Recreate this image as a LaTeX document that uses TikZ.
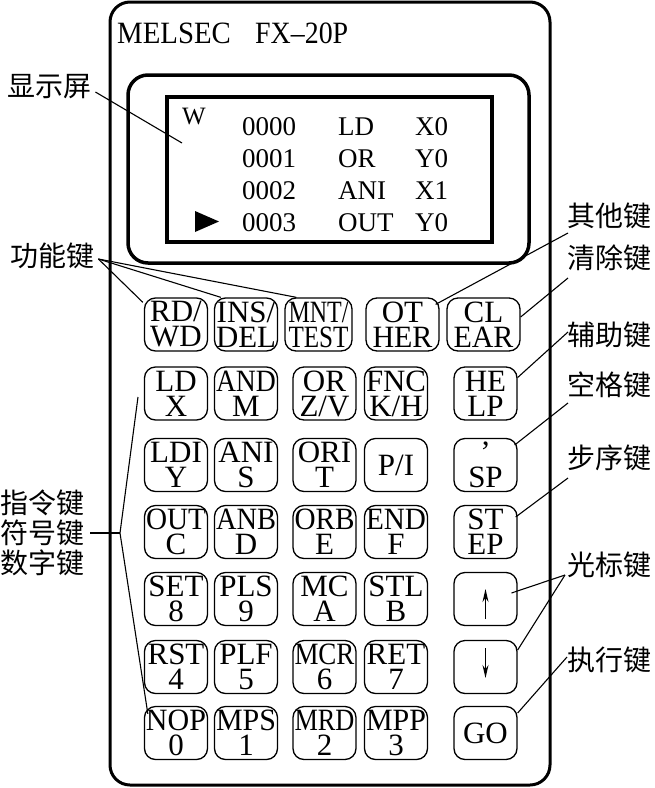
\documentclass[tikz,border=0pt]{standalone}
\usepackage{fontspec}
\usepackage{graphicx}
\setmainfont{Liberation Serif}
\newfontfamily\cjk{Noto Sans CJK SC}
\usetikzlibrary{arrows.meta,calc}
\newsavebox\keysb
\newcommand{\nx}[1]{\sbox\keysb{#1}\ifdim\wd\keysb>60pt\resizebox{60pt}{\height}{\usebox\keysb}\else\usebox\keysb\fi}
\begin{document}
\begin{tikzpicture}[x=1pt,y=-1pt,
  keybox/.style={draw, line width=1.3pt, rounded corners=11pt, minimum width=63pt, minimum height=53pt, inner sep=0pt, align=center, font=\fontsize{31}{25}\selectfont},
  lbl/.style={font=\cjk\fontsize{28}{30}\selectfont, inner sep=0pt, anchor=west},
  lead/.style={line width=1.1pt},
  scr/.style={font=\fontsize{27}{27}\selectfont, inner sep=0pt, anchor=base west},
  thickframe/.style={line width=3.5pt, rounded corners=20pt},
  cursor/.style={line width=1.5pt, -{Stealth[length=13pt,width=6pt]}},
]
\useasboundingbox (0,0) rectangle (654,788);
% body
\draw[line width=3pt, rounded corners=20pt] (110,2) rectangle (550,785);
\node[font=\fontsize{31}{31}\selectfont, inner sep=0pt, anchor=base west] (t1) at (117,43) {\scalebox{0.93}[1]{MELSEC}};
\node[font=\fontsize{31}{31}\selectfont, inner sep=0pt, anchor=base west] (t2) at (255,43) {\scalebox{0.9}[1]{FX–20P}};
% display
\draw[thickframe] (128,75) rectangle (529,263);
\draw[line width=3.5pt] (167,97) rectangle (492,242);
\node[font=\fontsize{25}{25}\selectfont, inner sep=0pt, anchor=base west] (w) at (182,124) {W};
\node[scr] (a0) at (242,135) {0000};
\node[scr] (a1) at (242,167) {0001};
\node[scr] (a2) at (242,199) {0002};
\node[scr] (a3) at (242,231) {0003};
\node[scr] (m0) at (338,135) {LD};
\node[scr] (m1) at (338,167) {OR};
\node[scr] (m2) at (338,199) {ANI};
\node[scr] (m3) at (338,231) {OUT};
\node[scr] (o0) at (415,135) {X0};
\node[scr] (o1) at (415,167) {Y0};
\node[scr] (o2) at (415,199) {X1};
\node[scr] (o3) at (415,231) {Y0};
\fill (195,211) -- (219,221.5) -- (195,232) -- cycle;
% keys row 1
\node[keybox] (rdwd) at (176,324.5) {\nx{RD/}\\\nx{WD}};
\node[keybox] (insdel) at (246,324.5) {\nx{INS/}\\\nx{DEL}};
\node[keybox, minimum width=67pt] (mnt) at (318.5,324.5) {\nx{MNT/}\\\nx{TEST}};
\node[keybox, minimum width=73pt] (other) at (402.5,324.5) {\nx{OT}\\\nx{HER}};
\node[keybox, minimum width=73pt] (clear) at (483.5,324.5) {\nx{CL}\\\nx{EAR}};
% row 2
\node[keybox] (ldx) at (176,393.5) {\nx{LD}\\\nx{X}};
\node[keybox] (andm) at (246,393.5) {\nx{AND}\\\nx{M}};
\node[keybox] (orz) at (324.5,393.5) {\nx{OR}\\\nx{Z/V}};
\node[keybox] (fnc) at (396,393.5) {\nx{FNC}\\\nx{K/H}};
\node[keybox] (help) at (485.5,393.5) {\nx{HE}\\\nx{LP}};
% row 3
\node[keybox] (ldi) at (176,465) {\nx{LDI}\\\nx{Y}};
\node[keybox] (ani) at (246,465) {\nx{ANI}\\\nx{S}};
\node[keybox] (ori) at (324.5,465) {\nx{ORI}\\\nx{T}};
\node[keybox] (pi) at (396,465) {\nx{P/I}};
\node[keybox] (sp) at (485.5,465) {\nx{’}\\\nx{SP}};
% row 4
\node[keybox] (out) at (176,532) {\nx{OUT}\\\nx{C}};
\node[keybox] (anb) at (246,532) {\nx{ANB}\\\nx{D}};
\node[keybox] (orb) at (324.5,532) {\nx{ORB}\\\nx{E}};
\node[keybox] (endk) at (396,532) {\nx{END}\\\nx{F}};
\node[keybox] (stepk) at (485.5,532) {\nx{ST}\\\nx{EP}};
% row 5
\node[keybox] (set) at (176,599) {\nx{SET}\\\nx{8}};
\node[keybox] (pls) at (246,599) {\nx{PLS}\\\nx{9}};
\node[keybox] (mc) at (324.5,599) {\nx{MC}\\\nx{A}};
\node[keybox] (stl) at (396,599) {\nx{STL}\\\nx{B}};
\node[keybox] (up) at (485.5,599) {};
% row 6
\node[keybox] (rst) at (176,667) {\nx{RST}\\\nx{4}};
\node[keybox] (plf) at (246,667) {\nx{PLF}\\\nx{5}};
\node[keybox] (mcr) at (324.5,667) {\nx{MCR}\\\nx{6}};
\node[keybox] (ret) at (396,667) {\nx{RET}\\\nx{7}};
\node[keybox] (down) at (485.5,667) {};
% row 7
\node[keybox] (nop) at (176,733) {\nx{NOP}\\\nx{0}};
\node[keybox] (mps) at (246,733) {\nx{MPS}\\\nx{1}};
\node[keybox] (mrd) at (324.5,733) {\nx{MRD}\\\nx{2}};
\node[keybox] (mpp) at (396,733) {\nx{MPP}\\\nx{3}};
\node[keybox] (go) at (485.5,733) {\nx{GO}};
% arrows in cursor keys
\draw[cursor] ([shift={(0,20)}]up.center) -- ([shift={(0,-10)}]up.center);
\draw[cursor] ([shift={(0,-19)}]down.center) -- ([shift={(0,11)}]down.center);
% labels left
\node[lbl] (lxs) at (7,87) {显示屏};
\node[lbl] (lgn) at (10,256) {功能键};
\node[lbl, align=left] (lzl) at (0,533) {指令键\\符号键\\数字键};
% labels right
\node[lbl] (lqt) at (567,216) {其他键};
\node[lbl] (lqc) at (567,258) {清除键};
\node[lbl] (lfz) at (567,335) {辅助键};
\node[lbl] (lkg) at (567,385) {空格键};
\node[lbl] (lbx) at (567,458) {步序键};
\node[lbl] (lgb) at (567,565) {光标键};
\node[lbl] (lzx) at (567,660) {执行键};
% leaders
\coordinate (dispP) at (182,143);
\draw[lead] ([shift={(4,5)}]lxs.east) -- (dispP);
\draw[lead] ([shift={(4,3)}]lgn.east) -- ([shift={(-1,5)}]rdwd.north west);
\draw[lead] ([shift={(4,3)}]lgn.east) -- ([shift={(7,0)}]insdel.north west);
\draw[lead] ([shift={(4,3)}]lgn.east) -- ([shift={(12,0)}]mnt.north west);
\coordinate (brk) at (120,533);
\coordinate (brtop) at (138,397);
\draw[lead] ([xshift=6pt]lzl.east) -- (brk);
\draw[lead] (brtop) -- (brk) -- ([shift={(4,8)}]nop.north west);
\draw[lead] ([shift={(1,17)}]lqt.west) -- ([shift={(-4,7)}]other.north east);
\draw[lead] ([shift={(1,20)}]lqc.west) -- ([shift={(0,-7.5)}]clear.east);
\draw[lead] ([shift={(1,-3)}]lfz.west) -- ([shift={(0,-16)}]help.east);
\draw[lead] ([shift={(1,18)}]lkg.west) -- ([shift={(-3,-20)}]sp.east);
\draw[lead] ([shift={(1,20)}]lbx.west) -- ([shift={(-2,-15)}]stepk.east);
\draw[lead] ([shift={(-2,10)}]lgb.west) -- ([shift={(26,-6)}]up.center);
\draw[lead] ([shift={(-2,10)}]lgb.west) -- ([shift={(0,-17)}]down.east);
\draw[lead] ([shift={(0,-3)}]lzx.west) -- ([shift={(0,-20)}]go.east);
\end{tikzpicture}
\end{document}
